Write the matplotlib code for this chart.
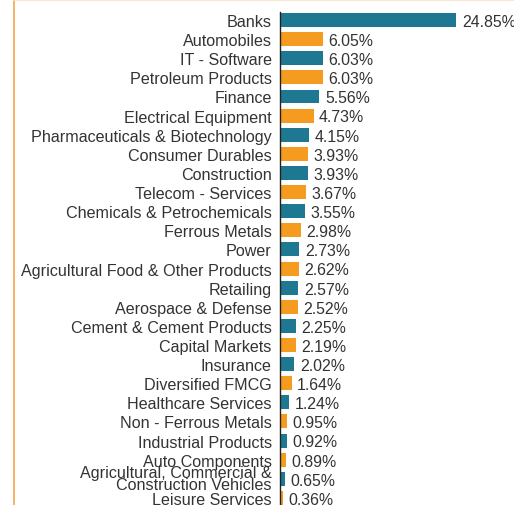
import matplotlib
matplotlib.use("Agg")
from matplotlib import pyplot as plt
from matplotlib.lines import Line2D

sectors = [
    "Banks", "Automobiles", "IT - Software", "Petroleum Products", "Finance",
    "Electrical Equipment", "Pharmaceuticals & Biotechnology", "Consumer Durables",
    "Construction", "Telecom - Services", "Chemicals & Petrochemicals",
    "Ferrous Metals", "Power", "Agricultural Food & Other Products", "Retailing",
    "Aerospace & Defense", "Cement & Cement Products", "Capital Markets",
    "Insurance", "Diversified FMCG", "Healthcare Services", "Non - Ferrous Metals",
    "Industrial Products", "Auto Components",
    "Agricultural, Commercial &\nConstruction Vehicles", "Leisure Services",
]
weights = [24.85, 6.05, 6.03, 6.03, 5.56, 4.73, 4.15, 3.93, 3.93, 3.67, 3.55,
           2.98, 2.73, 2.62, 2.57, 2.52, 2.25, 2.19, 2.02, 1.64, 1.24, 0.95,
           0.92, 0.89, 0.65, 0.36]

teal = "#1f7892"
orange = "#f59b1f"
txt = "#333333"

plt.rcParams['font.family'] = ['Liberation Sans', 'DejaVu Sans']

fig = plt.figure(figsize=(5.14, 5.06), dpi=100)
ax = fig.add_axes([280 / 514, 0, 234 / 514, 493 / 506])

pos = list(range(len(sectors)))
colors = [teal if i % 2 == 0 else orange for i in pos]
ax.barh(pos, weights, height=0.73, color=colors)

for i, w in enumerate(weights):
    ax.annotate(f"{w:.2f}%", (w, i), xytext=(4, -1), textcoords="offset points",
                va="center", ha="left", fontsize=11.4, color=txt)

ax.set_yticks(pos)
ax.set_yticklabels(sectors, fontsize=11.6, color=txt, linespacing=0.75)
ax.tick_params(axis="y", length=0, pad=6)
ax.set_xticks([])
ax.set_xlim(0, 33.0)
ax.set_ylim(25.37, -0.42)
for s in ["top", "right", "bottom"]:
    ax.spines[s].set_visible(False)
ax.spines["left"].set_color("#222222")
ax.spines["left"].set_linewidth(1.0)

# panel border pieces
fig.add_artist(Line2D([13.5 / 514, 13.5 / 514], [0, 1], color="#f3a54a", lw=1.2))
fig.add_artist(Line2D([13.5 / 514, 1], [1 - 0.5 / 506, 1 - 0.5 / 506], color="#fbe3c4", lw=1.2))

fig.savefig("out.png", dpi=100)
